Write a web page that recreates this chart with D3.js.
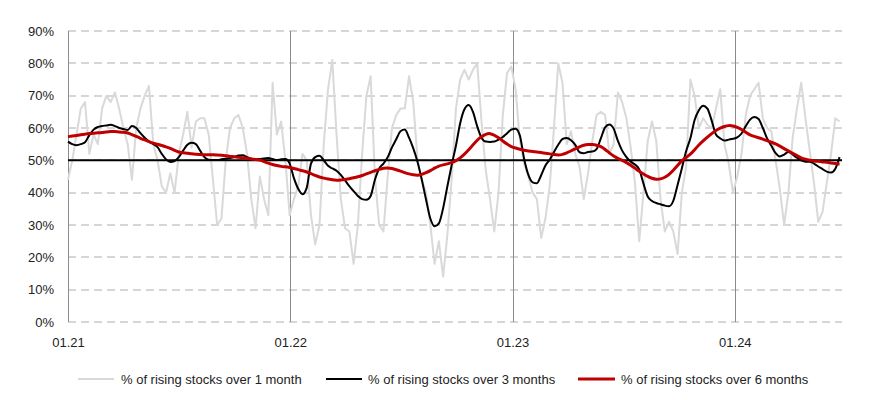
<!DOCTYPE html>
<html>
<head>
<meta charset="utf-8">
<script src="https://cdn.jsdelivr.net/npm/d3@7"></script>
<style>
  html, body { margin: 0; padding: 0; background: #fff; }
  svg { display: block; font-family: "Liberation Sans", Arial, sans-serif; }
</style>
</head>
<body>
<svg id="chart" width="870" height="400"></svg>
<script>
// ---------- data (weekly observations starting 2021-01-01) ----------
const startDay = "2021-01-01";
const endDay = "2024-06-25";
const seriesNames = [
  "% of rising stocks over 1 month",
  "% of rising stocks over 3 months",
  "% of rising stocks over 6 months"
];
const oneMonth = [
  44, 50, 58, 66, 68, 52, 58, 55, 66, 70,
  68, 71, 66, 60, 55, 44, 60, 66, 70, 73,
  55, 50, 42, 40, 46, 40, 52, 58, 65, 54,
  62, 63, 63, 58, 44, 30, 32, 50, 60, 63,
  64, 60, 52, 38, 29, 45, 38, 33, 74, 58,
  62, 50, 33, 38, 42, 52, 50, 33, 24, 30,
  55, 72, 81, 58, 38, 29, 28, 18, 30, 52,
  70, 76, 45, 30, 28, 45, 60, 64, 66, 66,
  76, 68, 50, 44, 40, 30, 18, 25, 14, 27,
  44, 66, 75, 78, 75, 78, 80, 62, 47, 38,
  28, 40, 64, 77, 79, 72, 56, 49, 45, 40,
  38, 26, 32, 42, 60, 80, 74, 55, 59, 52,
  48, 38, 46, 56, 64, 65, 64, 52, 55, 71,
  68, 63, 54, 43, 25, 40, 56, 62, 56, 38,
  28, 31, 28, 21, 40, 48, 75, 70, 60, 63,
  61, 60, 66, 72, 55, 49, 40, 45, 52, 64,
  70, 72, 74, 63, 60, 59, 50, 41, 30, 40,
  57, 66, 74, 63, 53, 43, 31, 34, 43, 52,
  63, 62
];
const threeMonths = [
  55.8, 55.0, 54.7, 55.0, 55.6, 57.8, 59.5, 60.3, 60.6, 60.8,
  61.0, 60.6, 60.0, 59.7, 59.4, 60.6, 60.0, 58.4, 57.0, 55.8,
  55.0, 54.1, 52.0, 50.3, 49.5, 49.8, 51.0, 53.0, 54.8, 55.4,
  55.0, 53.0, 51.0, 50.2, 50.1, 50.1, 50.3, 50.5, 50.7, 51.0,
  51.5, 51.6, 51.0, 50.5, 50.3, 50.4, 50.6, 50.7, 50.4, 50.1,
  50.3, 50.4, 49.0, 44.5, 41.2, 39.5, 41.5, 49.0, 51.0, 51.4,
  50.0, 48.3, 47.5, 46.8, 45.5, 43.8, 42.0, 40.5, 39.0, 38.0,
  37.8, 39.0, 44.0, 47.5, 49.0, 51.0, 54.0, 56.5, 59.0, 59.5,
  57.0, 53.7, 49.5, 44.0, 37.8, 32.0, 29.6, 30.5, 35.2, 42.0,
  48.5, 54.5, 61.5, 65.8, 67.1, 65.0, 60.5, 57.0, 55.8, 55.7,
  55.8, 56.4, 57.2, 58.4, 59.5, 59.8, 57.7, 50.5, 45.5, 43.2,
  42.9, 45.4, 48.4, 50.2, 52.6, 54.8, 56.6, 56.9, 56.2, 54.8,
  52.5, 52.2, 52.6, 52.7, 53.5, 56.8, 60.2, 61.1, 59.8, 56.0,
  53.0, 51.0, 49.6, 48.7, 47.2, 42.8, 38.8, 37.4, 36.8, 36.4,
  36.0, 35.8, 37.5, 42.4, 47.5, 52.8, 56.8, 62.5, 65.5, 66.9,
  66.0, 62.3, 58.0, 56.8, 56.1, 56.4, 56.7, 57.1, 58.3, 60.6,
  62.6, 63.4, 62.8, 60.0, 56.8, 54.5, 52.2, 51.2, 51.8, 52.6,
  51.8, 50.8, 50.0, 49.6, 49.6, 49.0, 48.1, 47.3, 46.5, 46.2,
  47.4, 51.0
];
const sixMonths = [
  57.3, 57.5, 57.7, 57.9, 58.1, 58.3, 58.4, 58.5, 58.6, 58.8,
  58.9, 58.9, 58.8, 58.7, 58.5, 58.0, 57.4, 56.8, 56.3, 55.8,
  55.3, 55.0, 54.6, 54.2, 53.7, 53.1, 52.5, 52.3, 52.2, 52.0,
  51.9, 51.8, 51.7, 51.7, 51.7, 51.7, 51.6, 51.4, 51.2, 51.1,
  50.9, 50.8, 50.6, 50.4, 50.3, 50.1, 49.6, 49.1, 48.7, 48.4,
  48.1, 48.0, 47.8, 47.5, 47.1, 46.8, 46.4, 45.9, 45.3, 44.8,
  44.5, 44.2, 44.0, 43.8, 43.9, 44.1, 44.3, 44.6, 44.9, 45.3,
  45.8, 46.3, 46.8, 47.2, 47.6, 47.7, 47.5, 47.1, 46.7, 46.2,
  45.8, 45.5, 45.3, 45.6, 46.2, 46.8, 47.6, 48.3, 48.6, 48.9,
  49.2, 49.9, 50.7, 51.9, 53.2, 54.8, 56.3, 57.3, 58.1, 58.4,
  57.8, 57.0, 56.0, 55.0, 54.2, 53.8, 53.4, 53.1, 52.9, 52.7,
  52.6, 52.4, 52.2, 52.0, 51.8, 51.6, 51.8, 52.3, 52.9, 53.5,
  54.2, 54.7, 54.9, 54.9, 54.7, 54.3, 53.4, 52.3, 51.3, 50.6,
  50.0, 49.3, 48.5, 47.6, 46.6, 45.8, 45.0, 44.4, 44.1, 44.2,
  44.7, 45.6, 46.9, 48.4, 49.9, 50.9, 51.8, 53.3, 54.8, 56.0,
  57.2, 58.3, 59.3, 60.0, 60.5, 60.8, 60.7, 60.2, 59.6, 58.7,
  57.8, 57.4, 57.0, 56.6, 56.1, 55.6, 55.1, 54.4, 53.6, 52.9,
  52.2, 51.5, 50.7, 50.3, 50.0, 49.8, 49.7, 49.5, 49.4, 49.2,
  49.0, 48.8
];
const referenceLevel = 50;
const yTickValues = [0, 10, 20, 30, 40, 50, 60, 70, 80, 90];
const xTickDates = ["2021-01-01", "2022-01-01", "2023-01-01", "2024-01-01"];
const xTickLabels = ["01.21", "01.22", "01.23", "01.24"];

// ---------- layout ----------
const plotLeft = 68, plotRight = 842, plotTop = 31, plotBottom = 322;
const parse = d3.timeParse("%Y-%m-%d");
const start = parse(startDay);
const dates = oneMonth.map((_, i) => d3.timeDay.offset(start, 7 * i));

const x = d3.scaleTime().domain([start, parse(endDay)]).range([plotLeft, plotRight]);
const y = d3.scaleLinear().domain([0, 90]).range([plotBottom, plotTop]);

const svg = d3.select("#chart");

// horizontal dashed gridlines
svg.append("g").selectAll("line").data(yTickValues).join("line")
  .attr("x1", plotLeft).attr("x2", plotRight)
  .attr("y1", d => Math.round(y(d))).attr("y2", d => Math.round(y(d)))
  .attr("stroke", "#d6d6d6").attr("stroke-width", 2)
  .attr("stroke-dasharray", "8,5");

// vertical year separators
const tickDates = xTickDates.map(parse);
svg.append("g").selectAll("line").data(tickDates).join("line")
  .attr("x1", d => Math.round(x(d)) + 0.5).attr("x2", d => Math.round(x(d)) + 0.5)
  .attr("y1", plotTop).attr("y2", plotBottom)
  .attr("stroke", "#8c8c8c").attr("stroke-width", 1);

// y axis labels
const yAxis = d3.axisLeft(y).tickValues(yTickValues).tickSize(0).tickPadding(14)
  .tickFormat(d => d + "%");
const gy = svg.append("g").attr("transform", `translate(${plotLeft},0)`).call(yAxis);
gy.select(".domain").remove();
gy.selectAll("text").attr("font-size", 13).attr("fill", "#222")
  .attr("font-family", "'Liberation Sans', Arial, sans-serif");

// x axis labels
const xAxis = d3.axisBottom(x).tickValues(tickDates).tickSize(0).tickPadding(16)
  .tickFormat((d, i) => xTickLabels[i]);
const gx = svg.append("g").attr("transform", `translate(0,${plotBottom})`).call(xAxis);
gx.select(".domain").remove();
gx.selectAll("text").attr("font-size", 13).attr("fill", "#222")
  .attr("font-family", "'Liberation Sans', Arial, sans-serif");

const lineOf = (vals, curve) => d3.line()
  .x((d, i) => x(dates[i]))
  .y(d => y(d))
  .curve(curve)(vals);

// 1-month (light grey)
svg.append("path").attr("d", lineOf(oneMonth, d3.curveLinear))
  .attr("fill", "none").attr("stroke", "#d9d9d9").attr("stroke-width", 2)
  .attr("stroke-linejoin", "round");

// 50% reference line
svg.append("line")
  .attr("x1", plotLeft).attr("x2", plotRight)
  .attr("y1", y(referenceLevel)).attr("y2", y(referenceLevel))
  .attr("stroke", "#000").attr("stroke-width", 2);

// 3-month (black)
svg.append("path").attr("d", lineOf(threeMonths, d3.curveMonotoneX))
  .attr("fill", "none").attr("stroke", "#000").attr("stroke-width", 2)
  .attr("stroke-linejoin", "round");

// 6-month (dark red)
svg.append("path").attr("d", lineOf(sixMonths, d3.curveBasis))
  .attr("fill", "none").attr("stroke", "#c00000").attr("stroke-width", 3)
  .attr("stroke-linejoin", "round");

// legend
const legend = [
  { name: seriesNames[0], color: "#d9d9d9", width: 2, x0: 78, x1: 114, tx: 121 },
  { name: seriesNames[1], color: "#000000", width: 2, x0: 326, x1: 362, tx: 368 },
  { name: seriesNames[2], color: "#c00000", width: 3, x0: 578, x1: 615, tx: 621 }
];
const ly = 379;
const lg = svg.append("g");
lg.selectAll("line").data(legend).join("line")
  .attr("x1", d => d.x0).attr("x2", d => d.x1)
  .attr("y1", ly).attr("y2", ly)
  .attr("stroke", d => d.color).attr("stroke-width", d => d.width);
lg.selectAll("text").data(legend).join("text")
  .attr("x", d => d.tx).attr("y", ly).attr("dy", "0.35em")
  .attr("font-size", 13).attr("fill", "#222")
  .text(d => d.name);
</script>
</body>
</html>
